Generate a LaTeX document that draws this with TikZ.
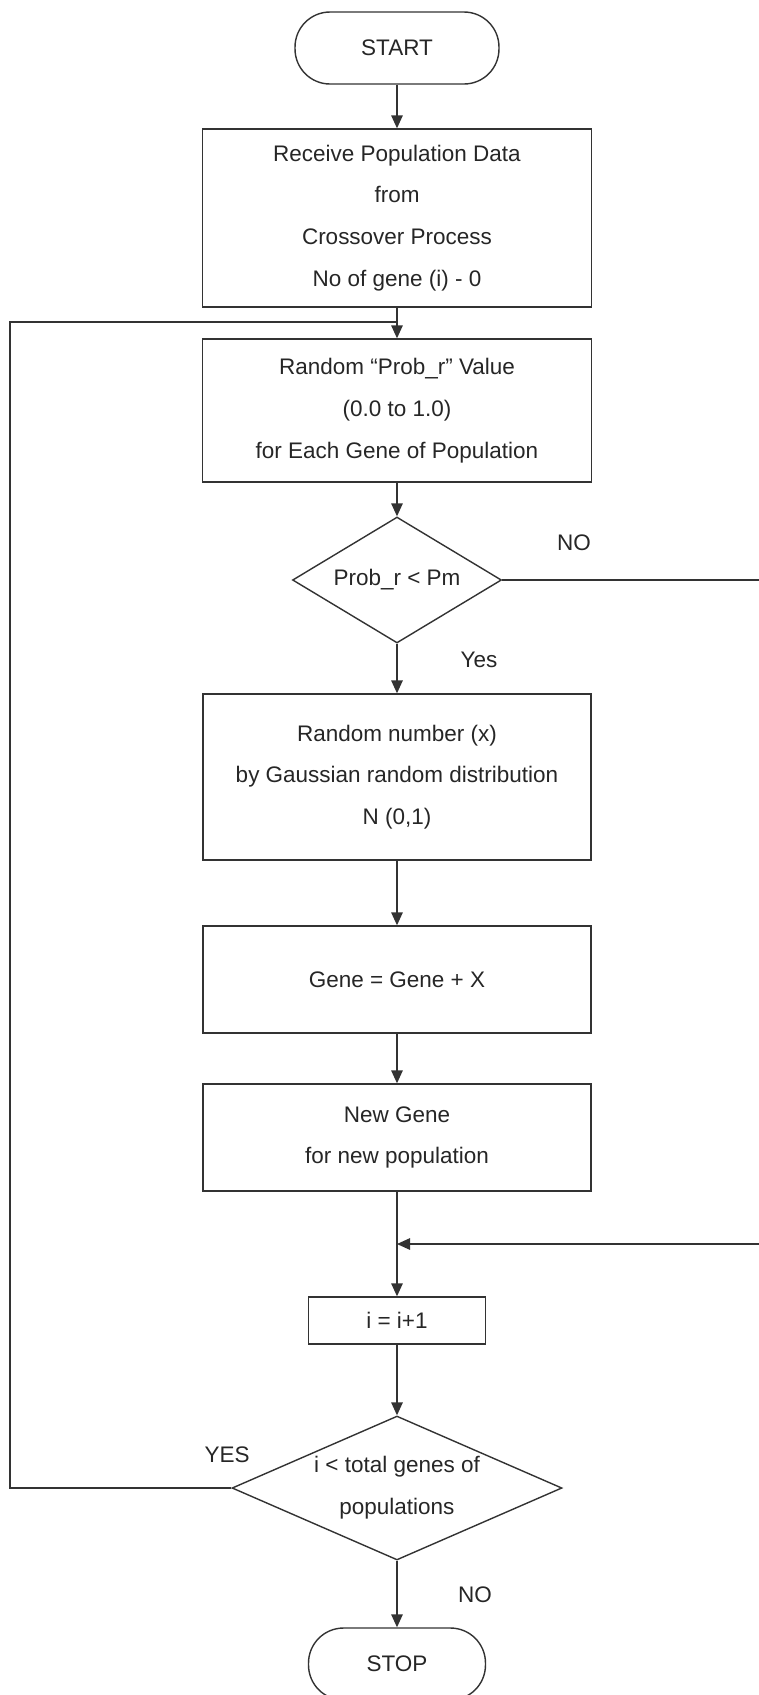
\documentclass[tikz,border=0pt]{standalone}
\usepackage{fontspec}
\setmainfont{Liberation Sans}
\usetikzlibrary{shapes.geometric,arrows.meta}

\tikzset{
    txt/.style={font=\fontsize{12.8pt}{23.8pt}\selectfont, text=black!85},
    box/.style={txt, draw=black!80, line width=0.8pt, rectangle, inner sep=0pt, align=center},
    term/.style={box, rounded corners=0.7cm},
    cond/.style={box, diamond, shape aspect=#1},
    flow/.style={draw=black!80, line width=0.8pt, -{Triangle[length=2.6mm,width=2.3mm]}},
    line/.style={draw=black!80, line width=0.8pt}
}

\begin{document}
\begin{tikzpicture}[x=0.02cm, y=-0.02cm]
            \useasboundingbox (0,0) rectangle (759,1695);

            \def\xm{397};
            \def\xl{10};
            \def\xr{760};

            \def\ya{48};
            \def\yb{218};
            \def\yc{410.5};
            \def\yd{580};
            \def\ye{777};
            \def\yf{979.5};
            \def\yg{1137.5};
            \def\yh{1320.5};
            \def\yi{1488};
            \def\yj{1664};

            \node[term, minimum width=4.08cm, minimum height=1.44cm] (start) at (\xm, \ya) {START};
            \node[box, minimum width=7.78cm, minimum height=3.56cm] (recv) at (\xm, \yb)
                {Receive Population Data\\from\\Crossover Process\\No of gene (i) - 0};
            \node[box, minimum width=7.78cm, minimum height=2.86cm] (rand) at (\xm, \yc)
                {Random “Prob\_r” Value\\(0.0 to 1.0)\\for Each Gene of Population};
            \node[cond=1.66, minimum width=4.18cm, minimum height=2.52cm] (chk) at (\xm, \yd) {Prob\_r < Pm};
            \node[box, minimum width=7.76cm, minimum height=3.32cm] (gauss) at (\xm, \ye)
                {Random number (x)\\by Gaussian random distribution\\N (0,1)};
            \node[box, minimum width=7.76cm, minimum height=2.14cm] (add) at (\xm, \yf) {Gene = Gene + X};
            \node[box, minimum width=7.76cm, minimum height=2.14cm] (newg) at (\xm, \yg)
                {New Gene\\for new population};
            \node[box, minimum width=3.54cm, minimum height=0.94cm] (incr) at (\xm, \yh) {i = i+1};
            \node[cond=2.29, minimum width=6.60cm, minimum height=2.88cm] (last) at (\xm, \yi)
                {i < total genes of\\populations};
            \node[term, minimum width=3.54cm, minimum height=1.44cm] (stop) at (\xm, \yj) {STOP};

            \coordinate (loop) at (\xm, 322);
            \coordinate (join) at (\xm, 1244);

            \node[txt] (no1) at (574, 543) {NO};
            \node[txt] (yes1) at (479, 660) {Yes};
            \node[txt] (yes2) at (227, 1455) {YES};
            \node[txt] (no2) at (475, 1595) {NO};

            \draw[flow] (start) -- (recv);
            \draw[flow] (recv) -- (rand);
            \draw[flow] (rand) -- (chk);
            \draw[flow] (chk) -- (gauss);
            \draw[flow] (gauss) -- (add);
            \draw[flow] (add) -- (newg);
            \draw[flow] (newg) -- (incr);
            \draw[flow] (incr) -- (last);
            \draw[flow] (last) -- (stop);

            % back to the top for the next gene
            \draw[line] (last.west) -- (\xl, \yi) |- (loop);
            % skip when not mutated
            \draw[flow] (chk.east) -- (\xr, \yd) |- (join);

        \end{tikzpicture}
\end{document}
